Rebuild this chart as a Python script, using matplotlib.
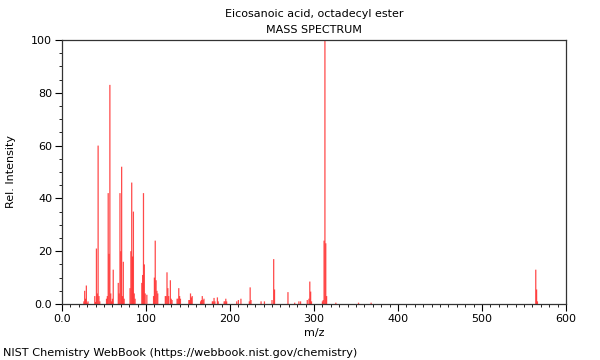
import matplotlib
matplotlib.use("Agg")
import matplotlib.pyplot as plt
from matplotlib.ticker import MultipleLocator, FuncFormatter

title = "Eicosanoic acid, octadecyl ester"
subtitle = "MASS SPECTRUM"
credit = "NIST Chemistry WebBook (https://webbook.nist.gov/chemistry)"

mz = [26, 27, 28, 29, 30, 31, 39, 40, 41, 42, 43, 44, 45,
      53, 54, 55, 56, 57, 58, 59, 60, 61,
      67, 68, 69, 70, 71, 72, 73, 74,
      81, 82, 83, 84, 85, 86, 87,
      95, 96, 97, 98, 99, 101,
      109, 110, 111, 112, 113, 114,
      123, 124, 125, 126, 127, 129, 130, 131,
      137, 138, 139, 140, 141,
      151, 152, 153, 154, 155,
      165, 166, 167, 168, 169,
      179, 180, 181, 182, 185, 186,
      193, 194, 195, 196, 208, 210, 213,
      223, 224, 225, 237, 241,
      250, 252, 253, 269, 277, 282, 284,
      292, 294, 295, 296, 297,
      310, 311, 312, 313, 314, 315,
      326, 353, 368,
      564, 565, 566]
intensity = [1, 5, 2, 7, 0.5, 1, 3, 0.8, 21, 4, 60, 3, 1,
             2, 3, 42, 19, 83, 4, 1, 2, 13,
             8, 4, 42, 20, 52, 3, 16, 2,
             6, 20, 46, 18, 35, 4, 2,
             8, 11, 42, 15, 4, 3.5,
             3, 10, 24, 9, 5, 4,
             3, 3, 12, 6, 3, 9, 2, 1.5,
             2, 2, 6, 3, 2,
             1.5, 1.5, 4, 2.5, 3,
             1, 1.5, 3, 1.5, 2,
             1, 1, 2.3, 1, 2.5, 1,
             1, 1, 2, 1, 1, 1.5, 2,
             1, 6.3, 1.5, 1, 1,
             1.5, 17, 5.5, 4.5, 0.5, 1, 1,
             1.5, 2, 8.5, 4.7, 1,
             1, 1.5, 24, 100, 23, 3,
             0.5, 0.5, 0.5,
             13, 5.5, 1]

x_ticks = [0, 100, 200, 300, 400, 500, 600]
y_ticks = [0, 20, 40, 60, 80, 100]

plt.rcParams['font.family'] = ['DejaVu Sans']
fig = plt.figure(figsize=(6, 3.6), dpi=100)
ax = fig.add_axes([62 / 600, 1 - 304 / 360, 504 / 600, 264 / 360])

ax.vlines(mz, 0, intensity, color='#ff2a2a', linewidth=0.9, alpha=0.85, snap=False)

ax.set_xlim(0, 600)
ax.set_ylim(0, 100)
ax.set_xticks(x_ticks)
ax.set_yticks(y_ticks)
ax.xaxis.set_minor_locator(MultipleLocator(10))
ax.yaxis.set_minor_locator(MultipleLocator(5))
fmt = FuncFormatter(lambda v, p: "0.0" if v == 0 else f"{int(v)}")
ax.xaxis.set_major_formatter(fmt)
ax.yaxis.set_major_formatter(fmt)
ax.tick_params(axis='both', which='major', length=5, width=0.8, labelsize=8, direction='out', pad=2)
ax.tick_params(axis='both', which='minor', length=2.5, width=0.6, direction='out')
ax.tick_params(top=False, right=False)
for s in ax.spines.values():
    s.set_linewidth(0.9)
    s.set_color('#333333')

ax.set_xlabel("m/z", fontsize=8, labelpad=3)
ax.set_ylabel("Rel. Intensity", fontsize=8, labelpad=11)

fig.text(314 / 600, 1 - 14 / 360, title, ha='center', va='center', fontsize=8)
fig.text(314 / 600, 1 - 30 / 360, subtitle, ha='center', va='center', fontsize=8)
fig.text(3 / 600, 1 - 353 / 360, credit, ha='left', va='center', fontsize=8.1)

fig.savefig("out.png", dpi=100)
